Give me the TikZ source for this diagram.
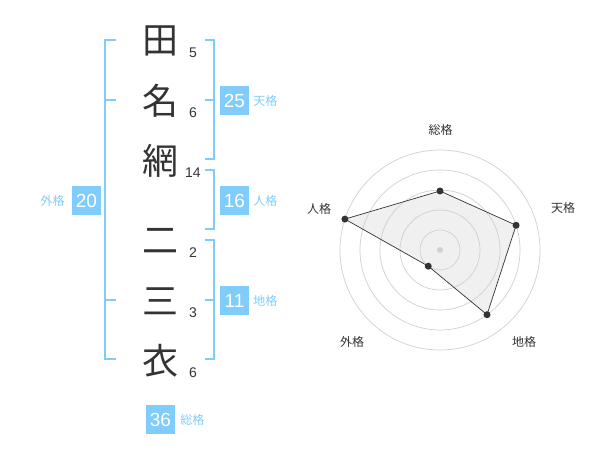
\documentclass[tikz,border=0pt]{standalone}
\usepackage{fontspec}
\setmainfont{Liberation Sans}
\newfontfamily\cjk{Noto Sans CJK JP}
\usetikzlibrary{positioning}
\definecolor{kakusky}{RGB}{128,204,250}
\definecolor{inkgray}{RGB}{51,51,51}
\definecolor{ringgray}{RGB}{208,208,208}
\definecolor{areagray}{RGB}{240,240,240}
\tikzstyle{kanji} = [inner sep=0pt, text=inkgray, font=\cjk\fontsize{36}{36}\selectfont]
\tikzstyle{strokenum} = [inner sep=0pt, text=inkgray, font=\fontsize{14}{14}\selectfont]
\tikzstyle{kakubox} = [rectangle, minimum width=29pt, minimum height=29pt, inner sep=0pt, fill=kakusky, text=white, font=\fontsize{19}{19}\selectfont]
\tikzstyle{kakuname} = [inner sep=0pt, text=kakusky, font=\cjk\fontsize{12}{12}\selectfont]
\tikzstyle{bracket} = [draw=kakusky, line width=2pt]
\tikzstyle{ring} = [draw=ringgray, line width=0.7pt]
\tikzstyle{axisname} = [inner sep=0pt, text=inkgray, font=\cjk\fontsize{12}{12}\selectfont]
\tikzstyle{dot} = [circle, minimum size=7pt, inner sep=0pt, fill=inkgray]

\begin{document}
\begin{tikzpicture}[x=1pt, y=-1pt, node distance=60pt]
    \useasboundingbox (0,0) rectangle (600,470);

    % Name
    \node (ta) [kanji] at (160,41) {田};
    \node (na) [kanji, below of=ta] {名};
    \node (ami) [kanji, below of=na] {網};
    \node (ni) [kanji, below of=ami, yshift=-20pt] {二};
    \node (san) [kanji, below of=ni] {三};
    \node (koromo) [kanji, below of=san] {衣};

    % Stroke counts
    \node (taCount) [strokenum] at (193,53) {5};
    \node (naCount) [strokenum] at (193,113) {6};
    \node (amiCount) [strokenum] at (193,173) {14};
    \node (niCount) [strokenum] at (193,253) {2};
    \node (sanCount) [strokenum] at (193,313) {3};
    \node (koromoCount) [strokenum] at (193,373) {6};

    % Brackets
    \draw [bracket] (116,40) -- (105,40) -- (105,359) -- (116,359);
    \draw [bracket] (105,100) -- (116,100);
    \draw [bracket] (105,300) -- (116,300);
    \draw [bracket] (205,40) -- (214,40) -- (214,159) -- (205,159);
    \draw [bracket] (205,100) -- (214,100);
    \draw [bracket] (205,170) -- (214,170) -- (214,229) -- (205,229);
    \draw [bracket] (205,240) -- (214,240) -- (214,359) -- (205,359);
    \draw [bracket] (205,300) -- (214,300);

    % Totals
    \node (tenBox) [kakubox] at (234.5,100.5) {25};
    \node (tenName) [kakuname, right=4pt of tenBox] {天格};
    \node (jinBox) [kakubox] at (234.5,200.5) {16};
    \node (jinName) [kakuname, right=4pt of jinBox] {人格};
    \node (chiBox) [kakubox] at (234.5,300.5) {11};
    \node (chiName) [kakuname, right=4pt of chiBox] {地格};
    \node (gaiBox) [kakubox] at (86.5,200.5) {20};
    \node (gaiName) [kakuname, left=7pt of gaiBox] {外格};
    \node (souBox) [kakubox] at (160.5,419.5) {36};
    \node (souName) [kakuname, right=5pt of souBox] {総格};

    % Radar
    \coordinate (hub) at (440,250);
    \coordinate (souPt) at ([shift={(-90:59)}]hub);
    \coordinate (tenPt) at ([shift={(-18:80)}]hub);
    \coordinate (chiPt) at ([shift={(54:80)}]hub);
    \coordinate (gaiPt) at ([shift={(126:20)}]hub);
    \coordinate (jinPt) at ([shift={(-162:100)}]hub);
    \fill [areagray] (souPt) -- (tenPt) -- (chiPt) -- (gaiPt) -- (jinPt) -- cycle;
    \foreach \r in {20,40,60,80,100}
        \draw [ring] (hub) circle (\r);
    \fill [ringgray] (hub) circle (3);
    \draw [inkgray, line width=0.7pt] (souPt) -- (tenPt) -- (chiPt) -- (gaiPt) -- (jinPt) -- cycle;
    \node (souDot) [dot] at (souPt) {};
    \node (tenDot) [dot] at (tenPt) {};
    \node (chiDot) [dot] at (chiPt) {};
    \node (gaiDot) [dot] at (gaiPt) {};
    \node (jinDot) [dot] at (jinPt) {};

    \node (souAxis) [axisname] at (440.5,130) {総格};
    \node (tenAxis) [axisname] at (563,208) {天格};
    \node (chiAxis) [axisname] at (524,342) {地格};
    \node (gaiAxis) [axisname] at (352,342) {外格};
    \node (jinAxis) [axisname] at (319,209) {人格};

\end{tikzpicture}
\end{document}
